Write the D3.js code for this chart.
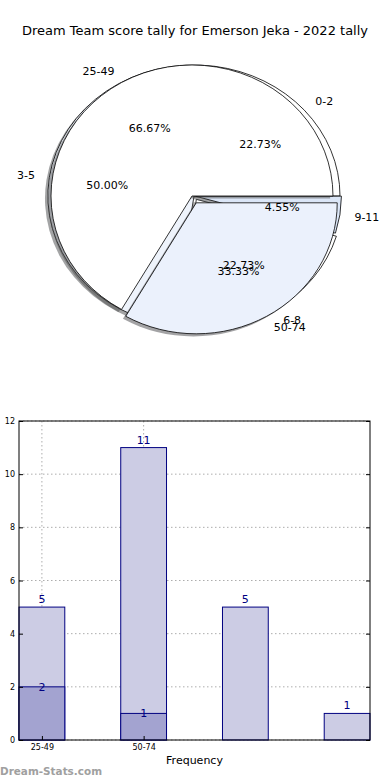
<!DOCTYPE html>
<html>
<head>
<meta charset="utf-8">
<script src="https://cdn.jsdelivr.net/npm/d3@7"></script>
<style>
  body { margin: 0; background: #fff; }
  svg { display: block; font-family: "DejaVu Sans", sans-serif; }
</style>
</head>
<body>
<svg id="chart"></svg>
<script>
const width = 390;
const height = 780;

const title = "Dream Team score tally for Emerson Jeka - 2022 tally";

// pie: score ranges
const rangeLabels = ["25-49", "50-74"];
const rangeValues = [66.67, 33.33];
const rangeColors = ["#ffffff", "#ebf1fc"];
const rangeExplode = [0, 0.06];

// pie: score bands
const bandLabels = ["0-2", "3-5", "6-8", "9-11"];
const bandValues = [22.73, 50.00, 22.73, 4.55];
const bandColors = ["#ffffff", "#eef3fb", "#ffffff", "#dbe6f7"];
const bandExplode = [0, 0, 0.03, 0.01];

// bars
const barTotals = [5, 11, 5, 1];
const barSubset = [2, 1];
const barTickLabels = ["25-49", "50-74"];
const yTicks = [0, 2, 4, 6, 8, 10, 12];

const svg = d3.select("#chart")
  .attr("width", width)
  .attr("height", height)
  .attr("viewBox", [0, 0, width, height]);

svg.append("text")
  .attr("x", width / 2)
  .attr("y", 35)
  .attr("text-anchor", "middle")
  .style("font-size", "13px")
  .text(title);

// ---------- pie ----------
const cy = 196, ry = 131;

const pie = d3.pie().sort(null).startAngle(0).endAngle(2 * Math.PI);
const arc = d3.arc().innerRadius(0).outerRadius(1);
const pieG = svg.append("g");

function shade(c) {
  const k = d3.rgb(c);
  return d3.rgb(k.r * 0.3, k.g * 0.3, k.b * 0.3).toString();
}

function drawPie(labels, values, colors, explode, cx, rx) {
  const slices = pie(values).map((d, i) => {
    // matplotlib style: counterclockwise from 3 o'clock
    const t0 = d.startAngle, t1 = d.endAngle, tm = (t0 + t1) / 2;
    return {
      label: labels[i],
      pct: d.value.toFixed(2) + "%",
      color: colors[i],
      t0, t1, tm, cx, rx,
      dx: explode[i] * rx * Math.cos(tm),
      dy: -explode[i] * ry * Math.sin(tm)
    };
  });

  slices.forEach(s => {
    const path = arc({ startAngle: Math.PI / 2 - s.t1, endAngle: Math.PI / 2 - s.t0 });
    pieG.append("path")
      .attr("d", path)
      .attr("transform", `translate(${cx + s.dx - 0.02 * rx},${cy + s.dy + 0.02 * ry}) scale(${rx},${ry})`)
      .attr("fill", shade(s.color))
      .attr("fill-opacity", 0.5)
      .attr("stroke", "none");
    pieG.append("path")
      .attr("d", path)
      .attr("transform", `translate(${cx + s.dx},${cy + s.dy}) scale(${rx},${ry})`)
      .attr("fill", s.color)
      .attr("stroke", "#000")
      .attr("stroke-width", 0.8)
      .attr("vector-effect", "non-scaling-stroke")
      .attr("stroke-linejoin", "round");
  });
  return slices;
}

const bandSlices = drawPie(bandLabels, bandValues, bandColors, bandExplode, 194, 146);
const rangeSlices = drawPie(rangeLabels, rangeValues, rangeColors, rangeExplode, 192, 141);

bandSlices.concat(rangeSlices).forEach(s => {
  const lx = s.cx + s.dx + 1.1 * s.rx * Math.cos(s.tm);
  const ly = cy + s.dy - 1.1 * ry * Math.sin(s.tm);
  pieG.append("text")
    .attr("x", lx)
    .attr("y", ly)
    .attr("dy", "0.35em")
    .attr("text-anchor", Math.cos(s.tm) < 0 ? "end" : "start")
    .style("font-size", "11px")
    .text(s.label);
  pieG.append("text")
    .attr("x", s.cx + s.dx + 0.6 * s.rx * Math.cos(s.tm))
    .attr("y", cy + s.dy - 0.6 * ry * Math.sin(s.tm))
    .attr("dy", "0.35em")
    .attr("text-anchor", "middle")
    .style("font-size", "11px")
    .text(s.pct);
});

// ---------- bars ----------
const plotLeft = 19, plotRight = 370, plotTop = 421, plotBottom = 740;
const barW = 0.45;

const x = d3.scaleLinear().domain([0, barTotals.length - 1 + barW]).range([plotLeft, plotRight]);
const y = d3.scaleLinear().domain([0, 12]).range([plotBottom, plotTop]);

const barG = svg.append("g");

// grid
barG.selectAll(".gy").data(yTicks).join("line")
  .attr("x1", plotLeft).attr("x2", plotRight)
  .attr("y1", d => y(d)).attr("y2", d => y(d))
  .attr("stroke", "#adadad").attr("stroke-dasharray", "1.5,2.5");
barG.selectAll(".gx").data(barTickLabels).join("line")
  .attr("x1", (d, i) => x(i + barW / 2)).attr("x2", (d, i) => x(i + barW / 2))
  .attr("y1", plotTop).attr("y2", plotBottom)
  .attr("stroke", "#adadad").attr("stroke-dasharray", "1.5,2.5");

// total bars
barG.selectAll(".bt").data(barTotals).join("rect")
  .attr("x", (d, i) => x(i))
  .attr("y", d => y(d))
  .attr("width", x(barW) - x(0))
  .attr("height", d => y(0) - y(d))
  .attr("fill", "#ccccE4")
  .attr("stroke", "#000080")
  .attr("stroke-width", 1);

barG.selectAll(".bs").data(barSubset).join("rect")
  .attr("x", (d, i) => x(i))
  .attr("y", d => y(d))
  .attr("width", x(barW) - x(0))
  .attr("height", d => y(0) - y(d))
  .attr("fill", "#a3a3d0")
  .attr("stroke", "#000080")
  .attr("stroke-width", 1);

barG.selectAll(".lt").data(barTotals).join("text")
  .attr("x", (d, i) => x(i + barW / 2))
  .attr("y", d => y(d) - 4)
  .attr("text-anchor", "middle")
  .attr("fill", "#000080")
  .style("font-size", "11px")
  .text(d => d);

barG.selectAll(".ls").data(barSubset).join("text")
  .attr("x", (d, i) => x(i + barW / 2))
  .attr("y", d => y(d) + 4)
  .attr("text-anchor", "middle")
  .attr("fill", "#000080")
  .style("font-size", "11px")
  .text(d => d);

// frame
barG.append("rect")
  .attr("x", plotLeft).attr("y", plotTop)
  .attr("width", plotRight - plotLeft).attr("height", plotBottom - plotTop)
  .attr("fill", "none").attr("stroke", "#000").attr("stroke-width", 1);

// y axis
const yAxis = barG.append("g")
  .attr("transform", `translate(${plotLeft},0)`)
  .call(d3.axisLeft(y).tickValues(yTicks).tickSize(-4).tickPadding(4));
yAxis.select(".domain").remove();
yAxis.selectAll("text").style("font-size", "8px").style("font-family", "DejaVu Sans");

const yAxisR = barG.append("g")
  .attr("transform", `translate(${plotRight},0)`)
  .call(d3.axisRight(y).tickValues(yTicks).tickSize(-4).tickFormat(""));
yAxisR.select(".domain").remove();

// x axis
const xAxis = barG.append("g")
  .attr("transform", `translate(0,${plotBottom})`)
  .call(d3.axisBottom(x)
    .tickValues(barTickLabels.map((d, i) => i + barW / 2))
    .tickFormat((d, i) => barTickLabels[i])
    .tickSize(-4).tickPadding(4));
xAxis.select(".domain").remove();
xAxis.selectAll("text").style("font-size", "8px").style("font-family", "DejaVu Sans");

svg.append("text")
  .attr("x", (plotLeft + plotRight) / 2)
  .attr("y", 764)
  .attr("text-anchor", "middle")
  .style("font-size", "11px")
  .text("Frequency");

svg.append("text")
  .attr("x", 0)
  .attr("y", 775)
  .attr("fill", "#a0a0a0")
  .attr("textLength", 102)
  .attr("lengthAdjust", "spacingAndGlyphs")
  .style("font-size", "11px")
  .style("font-weight", "bold")
  .text("Dream-Stats.com");
</script>
</body>
</html>
